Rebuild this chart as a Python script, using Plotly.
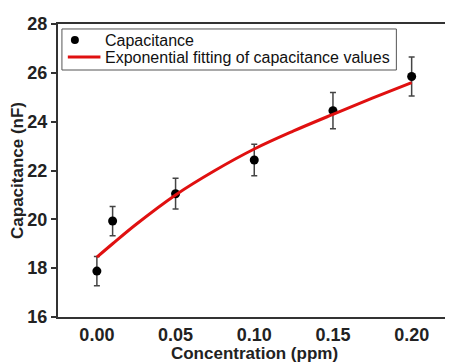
import plotly.graph_objects as go

concentration = [0.0, 0.01, 0.05, 0.10, 0.15, 0.20]
capacitance = [17.88, 19.93, 21.05, 22.43, 24.45, 25.85]
cap_error = [0.6, 0.6, 0.63, 0.65, 0.74, 0.8]

fit_x = [0.0, 0.01, 0.025, 0.05, 0.075, 0.10, 0.125, 0.15, 0.175, 0.20]
fit_y = [18.45, 19.0, 19.8, 21.0, 22.0, 22.88, 23.62, 24.3, 24.96, 25.6]

x_ticks = [0.0, 0.05, 0.10, 0.15, 0.20]
x_tick_labels = ["0.00", "0.05", "0.10", "0.15", "0.20"]
y_ticks = [16, 18, 20, 22, 24, 26, 28]

legend_labels = ["Capacitance", "Exponential fitting of capacitance values"]

FONT = "Liberation Sans, Arial, sans-serif"

fig = go.Figure()
fig.add_trace(go.Scatter(
    x=concentration, y=capacitance, mode="markers", name=legend_labels[0],
    marker=dict(color="black", size=9),
    error_y=dict(type="data", array=cap_error, color="#444", thickness=1.5, width=3),
))
fig.add_trace(go.Scatter(
    x=fit_x, y=fit_y, mode="lines", name=legend_labels[1],
    line=dict(color="#e01010", width=3, shape="spline"),
))

# compact legend box (drawn in paper coordinates)
fig.add_shape(type="rect", xref="paper", yref="paper",
              x0=0.010, x1=0.861, y0=0.843, y1=0.983,
              line=dict(color="#555", width=1), fillcolor="white", layer="above")
fig.add_shape(type="circle", xref="paper", yref="paper",
              xsizemode="pixel", ysizemode="pixel", xanchor=0.043, yanchor=0.945,
              x0=-4, x1=4, y0=-4, y1=4,
              line=dict(color="black", width=0), fillcolor="black", layer="above")
fig.add_shape(type="line", xref="paper", yref="paper",
              x0=0.025, x1=0.108, y0=0.887, y1=0.887,
              line=dict(color="#e01010", width=3), layer="above")
fig.add_annotation(xref="paper", yref="paper", x=0.114, y=0.945, xanchor="left", yanchor="middle",
                   text=legend_labels[0], showarrow=False,
                   font=dict(size=16, color="#111", family=FONT))
fig.add_annotation(xref="paper", yref="paper", x=0.114, y=0.887, xanchor="left", yanchor="middle",
                   text=legend_labels[1], showarrow=False,
                   font=dict(size=16, color="#111", family=FONT))

# the page adds an 8px body margin on the left and top
fig.update_layout(
    width=445, height=355,
    margin=dict(l=50, r=0, t=16, b=46),
    paper_bgcolor="white", plot_bgcolor="white",
    font=dict(family=FONT, color="#222"),
    showlegend=False,
)
fig.update_xaxes(
    range=[-0.0247, 0.225], tickvals=x_ticks, ticktext=x_tick_labels,
    showgrid=False, zeroline=False, showline=True, linecolor="#333", linewidth=2,
    mirror=True, ticks="",
    tickfont=dict(size=18, family=FONT, color="#222", weight="bold"),
    title=dict(text="Concentration (ppm)", font=dict(size=17, color="#222", family=FONT, weight="bold"), standoff=2),
)
fig.update_yaxes(
    range=[16, 28], tickvals=y_ticks,
    showgrid=False, zeroline=False, showline=True, linecolor="#333", linewidth=2,
    mirror=True, ticks="outside", ticklen=5, tickwidth=2, tickcolor="#333",
    tickfont=dict(size=18, family=FONT, color="#222", weight="bold"),
    title=dict(text="Capacitance (nF)", font=dict(size=17, color="#222", family=FONT, weight="bold"), standoff=6),
)

fig.write_html("out.html")
